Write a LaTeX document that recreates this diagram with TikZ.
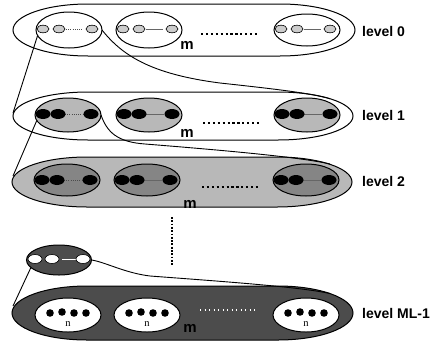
\documentclass[tikz,border=0pt]{standalone}
\usepackage{fontspec}
\setmainfont{Liberation Sans}
\newfontfamily\serifn{Liberation Serif}
\usetikzlibrary{shapes.geometric}
\definecolor{stipA}{gray}{0.80}
\definecolor{stipB}{gray}{0.72}
\definecolor{stipC}{gray}{0.52}
\definecolor{stipD}{gray}{0.30}
\newcommand{\outerblob}[6]{% fill, L, R, C, H, w
  \draw[outline, fill=#1] (#2,#4) .. controls (#2,{#4-0.5523*#5}) and ({#2+#6-0.5523*#6},{#4-#5}) .. ({#2+#6},{#4-#5}) -- ({#3-#6},{#4-#5}) .. controls ({#3-#6+0.5523*#6},{#4-#5}) and (#3,{#4-0.5523*#5}) .. (#3,#4) .. controls (#3,{#4+0.5523*#5}) and ({#3-#6+0.5523*#6},{#4+#5}) .. ({#3-#6},{#4+#5}) -- ({#2+#6},{#4+#5}) .. controls ({#2+#6-0.5523*#6},{#4+#5}) and (#2,{#4+0.5523*#5}) .. cycle;}
\newcommand{\hatchovals}[3]{% x, y, gap style
  \draw[#3] ({#1-3},#2) -- ({#1+14},#2);
  \foreach \dx in {-26,-10,23} {\draw[line width=0.6pt, fill=stipA] ({#1+\dx},#2) ellipse [x radius=6, y radius=3.8];}}
\newcommand{\blackovals}[3]{% x, y, gap style
  \draw[#3] ({#1-3},#2) -- ({#1+15},#2);
  \foreach \dx in {-25,-10,23} {\fill ({#1+\dx},#2) ellipse [x radius=7.5, y radius=5];}}
\newcommand{\fourdots}[2]{%
  \foreach \dx/\dy in {-18/0,-6/-1,6/0,18/0} {\fill ({#1+\dx},{#2+\dy}) circle [radius=3.8];}}
\begin{document}
\begin{tikzpicture}[x=1pt,y=-1pt,
  outline/.style={draw=black, line width=1pt},
  innerel/.style={ellipse, draw=black, line width=1pt, minimum width=66pt, minimum height=36pt, inner sep=0pt, outer sep=0pt},
  conn/.style={draw=black, line width=0.9pt},
  gapline/.style={line width=0.3pt, draw=black!60},
  gapdots/.style={line width=0.5pt, draw=black!70, dash pattern=on 0.8pt off 1.4pt},
  hdots/.style={line width=2.2pt, dash pattern=on 2.2pt off 2.7pt},
  vdots/.style={line width=2.4pt, dash pattern=on 1.8pt off 1.5pt},
  lvl/.style={font=\fontsize{14}{16}\selectfont\bfseries, inner sep=0pt, anchor=west},
  mlab/.style={font=\fontsize{15}{16}\selectfont\bfseries, inner sep=0pt},
  nlab/.style={font=\serifn\fontsize{10.5}{11}\selectfont, inner sep=0pt}]
\useasboundingbox (0,0) rectangle (441,343);

% ---------- level 0
\outerblob{white}{13}{355}{30}{26}{75}
\node[innerel, fill=white] (a01) at (69,30) {};
\node[innerel, fill=white] (a02) at (149,30) {};
\node[innerel, fill=white, minimum height=32pt] (a03) at (307,30) {};
\hatchovals{69}{29}{gapdots}
\hatchovals{149}{29}{gapline}
\hatchovals{307}{29}{gapline}
\draw[hdots] (201,34) -- (258,34);
\node[mlab] (m0) at (187,45) {m};
\node[lvl] (t0) at (362,31) {level 0};

% ---------- level 1
\outerblob{white}{13}{353}{116}{24}{75}
\node[innerel, fill=stipB, minimum height=34pt] (a11) at (68,115) {};
\node[innerel, fill=stipB, minimum height=34pt] (a12) at (149,115) {};
\node[innerel, fill=stipB, minimum height=34pt] (a13) at (307,115) {};
\blackovals{68}{114}{gapdots}
\blackovals{149}{114}{gapline}
\blackovals{307}{114}{gapline}
\draw[hdots] (203,123) -- (260,123);
\node[mlab] (m1) at (187,133) {m};
\node[lvl] (t1) at (362,115) {level 1};

% ---------- level 2
\outerblob{stipB}{12}{352}{182}{25}{75}
\node[innerel, fill=stipC, minimum height=32pt] (a21) at (67,180) {};
\node[innerel, fill=stipC, minimum height=32pt] (a22) at (147,180) {};
\node[innerel, fill=stipC, minimum height=32pt] (a23) at (306,180) {};
\blackovals{67}{180}{gapdots}
\blackovals{147}{180}{gapline}
\blackovals{306}{180}{gapline}
\draw[hdots] (202,187) -- (258,187);
\node[mlab] (m2) at (190,204) {m};
\node[lvl] (t2) at (362,181) {level 2};

% ---------- vertical dots
\coordinate (vtop) at (172,217);
\coordinate (vbot) at (172,265);
\draw[vdots] (vtop) -- (vbot);

% ---------- level ML-1
\outerblob{stipD}{12}{353}{313}{27}{75}
\node[innerel, fill=white, minimum height=34pt] (c1) at (68,315) {};
\node[innerel, fill=white, minimum height=34pt] (c2) at (147,315) {};
\node[innerel, fill=white, minimum height=34pt] (c3) at (306,315) {};
\fourdots{68}{313}
\fourdots{147}{313}
\fourdots{306}{313}
\node[nlab] (n1) at (68,324) {n};
\node[nlab] (n2) at (147,324) {n};
\node[nlab] (n3) at (306,324) {n};
\draw[hdots, white, line width=2pt, dash pattern=on 1.3pt off 3.2pt] (200,310) -- (258,310);
\node[mlab] (m3) at (190,328) {m};
\node[lvl] (t3) at (362,313) {level ML-1};

% small expanded element
\node[innerel, fill=stipD, minimum width=65pt, minimum height=30pt] (s) at (59,260) {};
\draw[gapline, draw=white] (62,259) -- (76,259);
\foreach \dx in {-24,-7,24} {\draw[line width=0.6pt, fill=white] ({59+\dx},259) ellipse [x radius=7, y radius=4.5];}

% ---------- connectors
\coordinate (l1W) at (13,113);
\coordinate (l1NE) at (330,98.7);
\coordinate (l2W) at (13,176);
\coordinate (l2NE) at (330,164);
\coordinate (mlW) at (13,306);
\coordinate (mlNE) at (330,293.5);
\coordinate (k0) at (220,83);
\coordinate (k1) at (145,144);
\coordinate (k2) at (150,276);
\draw[conn] (a01.190) -- (l1W);
\draw[conn] (a01.east) .. controls (122,55) and (150,74) .. (k0) .. controls (275,89) and (310,93) .. (l1NE);
\draw[conn] (a11.190) -- (l2W);
\draw[conn] (a11.east) .. controls (107,132) and (117,142) .. (k1) .. controls (220,150) and (300,157) .. (l2NE);
\draw[conn] (s.195) -- (mlW);
\draw[conn] (s.east) .. controls (105,262) and (125,273) .. (k2) .. controls (230,282) and (300,287) .. (mlNE);
\end{tikzpicture}
\end{document}
